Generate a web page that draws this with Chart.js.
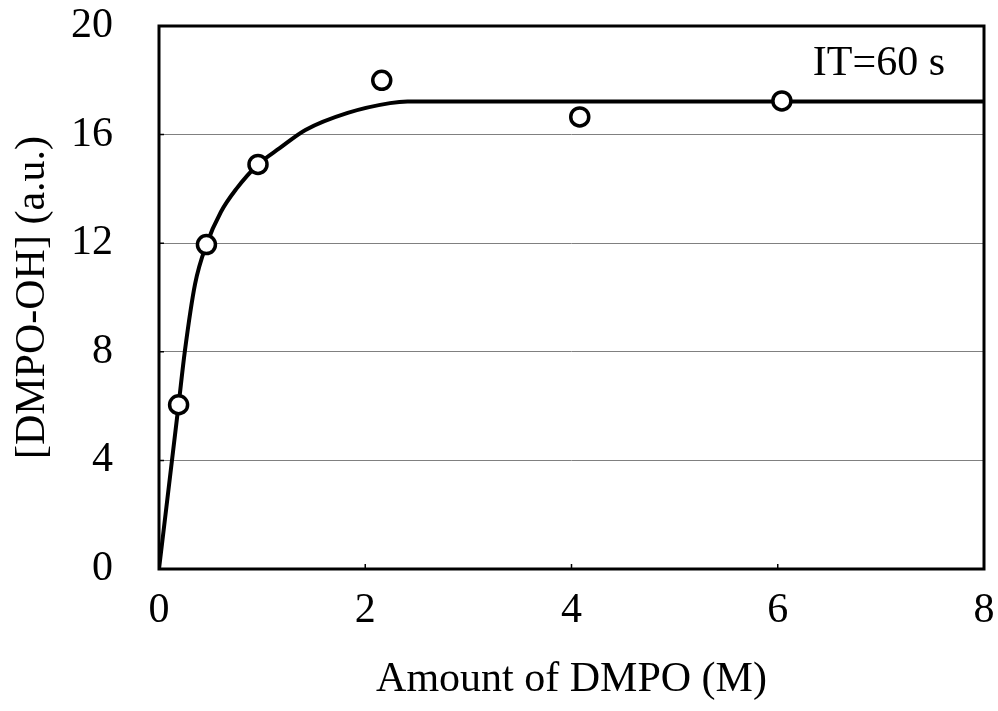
<!DOCTYPE html>
<html>
<head>
<meta charset="utf-8">
<script src="https://cdn.jsdelivr.net/npm/chart.js@4/dist/chart.umd.min.js"></script>
<style>
  html, body { margin: 0; padding: 0; background: #fff; }
  #wrap { width: 998px; height: 711px; }
</style>
</head>
<body>
<div id="wrap"><canvas id="chart" width="998" height="711"></canvas></div>
<script>
// ==================== DATA ====================
// measured points
const dmpoX = [0.19, 0.46, 0.96, 2.16, 4.08, 6.04];
const dmpoOH = [6.05, 11.95, 14.9, 18.0, 16.65, 17.24];

// fitted curve
const fitX = [0, 0.19, 0.25, 0.35, 0.46, 0.6, 0.75, 0.96, 1.17, 1.42, 1.83, 2.24, 2.41, 8];
const fitY = [0, 6.05, 8.0, 10.5, 11.95, 13.15, 14.0, 14.9, 15.5, 16.17, 16.8, 17.16, 17.22, 17.22];

const xTicks = [0, 2, 4, 6, 8];
const yTicks = [0, 4, 8, 12, 16, 20];
const noteText = 'IT=60 s';

const serif = "'Liberation Serif', 'DejaVu Serif', serif";
const fontSize = 42;

// ==================== PLUGINS ====================
// frame + inward tick marks + note
const framePlugin = {
  id: 'frame',
  afterDraw(chart) {
    const { ctx, chartArea: a, scales } = chart;
    ctx.save();
    ctx.strokeStyle = '#000';
    ctx.lineWidth = 1.5;
    ctx.beginPath();
    xTicks.slice(1, -1).forEach(v => {
      const px = scales.x.getPixelForValue(v);
      ctx.moveTo(px, a.bottom);
      ctx.lineTo(px, a.bottom - 5);
    });
    yTicks.slice(1, -1).forEach(v => {
      const py = scales.y.getPixelForValue(v);
      ctx.moveTo(a.left, py);
      ctx.lineTo(a.left + 5, py);
    });
    ctx.stroke();

    ctx.lineWidth = 3;
    ctx.strokeRect(a.left, a.top, a.right - a.left, a.bottom - a.top);

    ctx.fillStyle = '#000';
    ctx.font = fontSize + 'px ' + serif;
    ctx.textAlign = 'right';
    ctx.textBaseline = 'middle';
    ctx.fillText(noteText, a.right - 39, a.top + 38);
    ctx.restore();
  }
};

// no label overhang, so the plot box sits where the layout padding says
function noOverhang(s) {
  s.paddingTop = 0; s.paddingBottom = 0; s.paddingLeft = 0; s.paddingRight = 0;
}

// ==================== CHART ====================
const ctx = document.getElementById('chart').getContext('2d');
new Chart(ctx, {
  type: 'scatter',
  data: {
    datasets: [
      {
        label: 'fit',
        data: fitX.map((x, i) => ({ x, y: fitY[i] })),
        showLine: true,
        borderColor: '#000',
        borderWidth: 4,
        pointRadius: 0,
        cubicInterpolationMode: 'monotone',
        order: 2
      },
      {
        label: 'DMPO-OH',
        data: dmpoX.map((x, i) => ({ x, y: dmpoOH[i] })),
        showLine: false,
        pointStyle: 'circle',
        pointRadius: 9,
        pointBackgroundColor: '#fff',
        pointBorderColor: '#000',
        pointBorderWidth: 3.5,
        order: 1
      }
    ]
  },
  options: {
    responsive: false,
    animation: false,
    layout: { padding: { top: 26, right: 14, left: 0, bottom: 0 } },
    plugins: {
      legend: { display: false },
      tooltip: { enabled: false }
    },
    scales: {
      x: {
        type: 'linear',
        min: 0, max: 8,
        afterBuildTicks: s => { s.ticks = xTicks.map(v => ({ value: v })); },
        afterFit: s => { s.height = 142; noOverhang(s); },
        grid: { display: false, drawTicks: false },
        border: { display: false },
        ticks: { color: '#000', font: { family: serif, size: fontSize }, padding: 17, maxRotation: 0 },
        title: {
          display: true,
          text: 'Amount of DMPO (M)',
          color: '#000',
          font: { family: serif, size: fontSize },
          padding: { top: 0, bottom: 6 }
        }
      },
      y: {
        type: 'linear',
        min: 0, max: 20,
        afterBuildTicks: s => { s.ticks = yTicks.map(v => ({ value: v })); },
        afterFit: s => { s.width = 159; noOverhang(s); },
        grid: {
          drawTicks: false,
          color: ctx => (ctx.tick && (ctx.tick.value === 0 || ctx.tick.value === 20)) ? 'rgba(0,0,0,0)' : '#808080',
          lineWidth: 1
        },
        border: { display: false },
        ticks: { color: '#000', font: { family: serif, size: fontSize }, padding: 46 },
        title: {
          display: true,
          text: '[DMPO-OH] (a.u.)',
          color: '#000',
          font: { family: serif, size: fontSize },
          padding: { top: 8, bottom: 0 }
        }
      }
    }
  },
  plugins: [framePlugin]
});
</script>
</body>
</html>
